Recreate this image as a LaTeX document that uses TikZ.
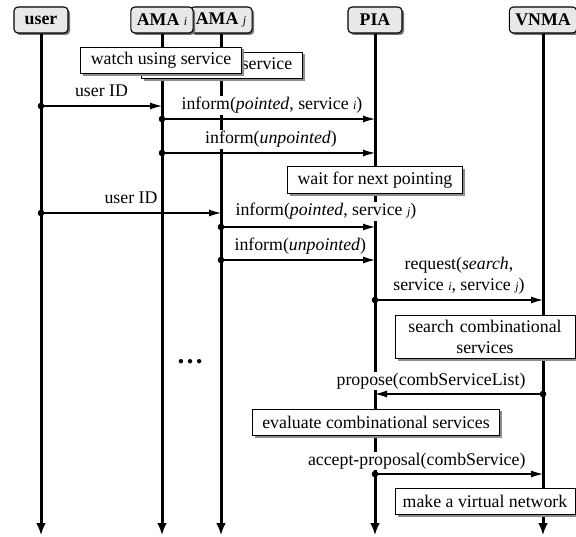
\documentclass[tikz,border=0pt]{standalone}
\usepackage{fontspec}
\setmainfont{Liberation Serif}
\usetikzlibrary{arrows.meta,shadows}

\newcommand{\idx}[1]{{\fontsize{12}{12}\selectfont\mdseries\itshape #1}}

\tikzset{
    head/.style={draw, line width=1.1pt, rounded corners=4pt, fill=gray!18,
        minimum width=54pt, minimum height=26pt, inner xsep=6pt,
        drop shadow={shadow xshift=2pt, shadow yshift=-2pt, fill=black!55, opacity=1}},
    life/.style={line width=3pt, -{Latex[length=12pt,width=10pt]}},
    msg/.style={line width=1.1pt, {Circle[length=6.5pt]}-{Latex[length=12pt,width=7pt]},
        shorten <=-3.25pt},
    lbl/.style={fill=white, inner sep=1pt, anchor=base, yshift=9pt},
    task/.style={draw, fill=white, line width=0.8pt, inner xsep=10pt, inner ysep=5pt,
        minimum height=26pt,
        drop shadow={shadow xshift=2.5pt, shadow yshift=-2.5pt, fill=black!45, opacity=1}}
}

\begin{document}
\begin{tikzpicture}[x=1pt, y=-1pt, font=\fontsize{17.8}{21}\selectfont]
    \useasboundingbox (0,0) rectangle (576,537);

    % agents
    \node[head] (amaj) at (221,20) {\textbf{AMA \idx{j}}};
    \node[head] (amai) at (162,20) {\textbf{AMA \idx{i}}};
    \node[head] (user) at (41,20) {\textbf{user}};
    \node[head] (pia) at (375,20) {\textbf{PIA}};
    \node[head] (vnma) at (543,20) {\textbf{VNMA}};

    % lifelines
    \coordinate (user-end) at (41,535);
    \coordinate (amai-end) at (162,535);
    \coordinate (amaj-end) at (221,535);
    \coordinate (pia-end) at (375,535);
    \coordinate (vnma-end) at (543,535);
    \draw[life] (user) -- (user-end);
    \draw[life] (amai) -- (amai-end);
    \draw[life] (amaj) -- (amaj-end);
    \draw[life] (pia) -- (pia-end);
    \draw[life] (vnma) -- (vnma-end);

    % activities
    \node[task] (watchj) at (222,65) {watch using service};
    \node[task] (watchi) at (161,60) {watch using service};
    \node[task] (wait) at (375,180) {wait for next pointing};
    \node[task, align=center, text width=160pt] (search) at (485,337)
        {search combinational\\services};
    \node[task] (eval) at (376,422) {evaluate combinational services};
    \node[task, minimum width=180pt, inner xsep=7pt] (vnet) at (485,501)
        {make a virtual network};
    \node (dots) at (190,362) {\fontsize{27}{27}\selectfont\textbf{…}};

    % message points
    \coordinate (uidi-s) at (41,106);  \coordinate (uidi-e) at (162,106);
    \coordinate (pti-s) at (162,119);  \coordinate (pti-e) at (375,119);
    \coordinate (upi-s) at (162,153);  \coordinate (upi-e) at (375,153);
    \coordinate (uidj-s) at (41,213);  \coordinate (uidj-e) at (221,213);
    \coordinate (ptj-s) at (221,227);  \coordinate (ptj-e) at (375,227);
    \coordinate (upj-s) at (221,260);  \coordinate (upj-e) at (375,260);
    \coordinate (req-s) at (375,300);  \coordinate (req-e) at (543,300);
    \coordinate (prop-s) at (543,394); \coordinate (prop-e) at (375,394);
    \coordinate (acc-s) at (375,474);  \coordinate (acc-e) at (543,474);

    % messages
    \draw[msg] (uidi-s) -- node[lbl, midway] {user ID} (uidi-e);
    \draw[msg] (pti-s) -- node[lbl, midway, xshift=3.5pt]
        {inform(\textit{pointed}, service \idx{i})} (pti-e);
    \draw[msg] (upi-s) -- node[lbl, midway, xshift=2.5pt] {inform(\textit{unpointed})} (upi-e);
    \draw[msg] (uidj-s) -- node[lbl, midway] {user ID} (uidj-e);
    \draw[msg] (ptj-s) -- node[lbl, pos=0, anchor=base west, xshift=13pt, yshift=2pt]
        {inform(\textit{pointed}, service \idx{j})} (ptj-e);
    \draw[msg] (upj-s) -- node[lbl, pos=0, anchor=base west, xshift=12pt]
        {inform(\textit{unpointed})} (upj-e);
    \draw[msg] (req-s) -- node[midway, anchor=south, yshift=4pt, fill=white,
        inner sep=1pt, align=center]
        {request(\textit{search},\\service \idx{i}, service \idx{j})} (req-e);
    \draw[msg] (prop-s) -- node[lbl, pos=0, anchor=base east, xshift=-16pt]
        {propose(combServiceList)} (prop-e);
    \draw[msg] (acc-s) -- node[lbl, pos=1, anchor=base east, xshift=-16pt]
        {accept-proposal(combService)} (acc-e);
\end{tikzpicture}
\end{document}
